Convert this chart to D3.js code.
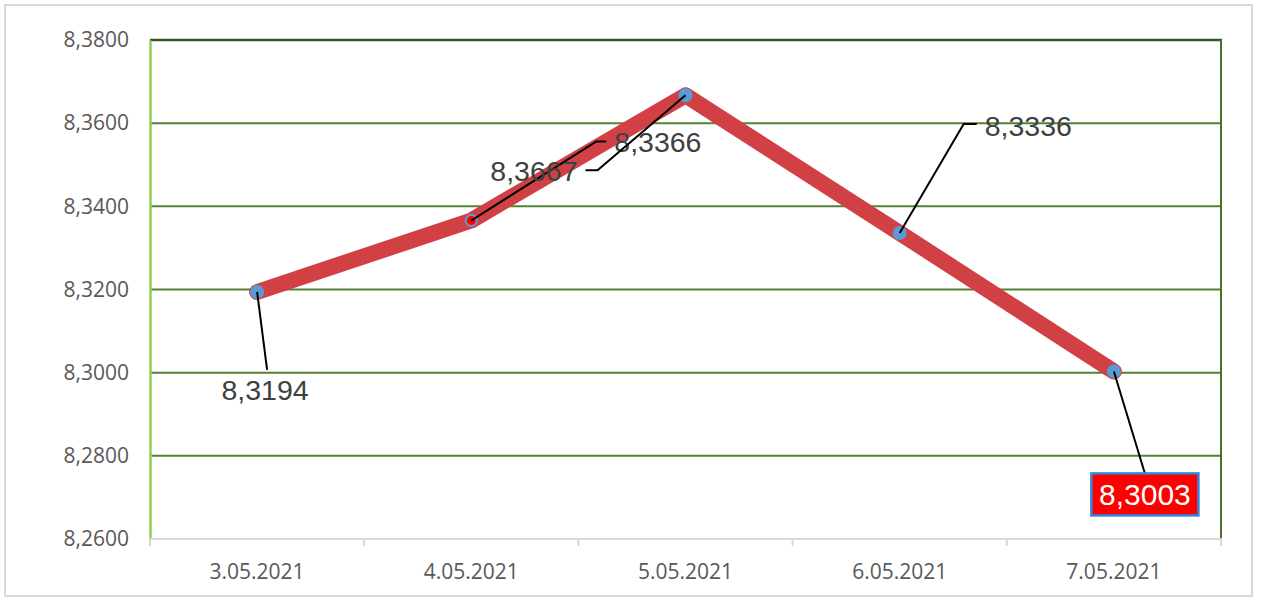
<!DOCTYPE html>
<html>
<head>
<meta charset="utf-8">
<script src="https://cdn.jsdelivr.net/npm/d3@7"></script>
<style>
  html, body { margin: 0; padding: 0; background: #fff; }
  svg { display: block; }
</style>
</head>
<body>
<svg id="chart" width="1266" height="598"></svg>
<script>
// ---- data ----
const categories = ["3.05.2021", "4.05.2021", "5.05.2021", "6.05.2021", "7.05.2021"];
const values = [8.3194, 8.3366, 8.3667, 8.3336, 8.3003];
const labelTexts = ["8,3194", "8,3366", "8,3667", "8,3336", "8,3003"];
const yTicks = [8.26, 8.28, 8.30, 8.32, 8.34, 8.36, 8.38];

// ---- layout ----
const plot = { left: 150, right: 1221, top: 40, bottom: 539 };

const svg = d3.select("#chart");

// outer frame
svg.append("rect")
  .attr("x", 5).attr("y", 5).attr("width", 1247).attr("height", 591)
  .attr("fill", "#fff").attr("stroke", "#d9d9d9").attr("stroke-width", 2);

const x = d3.scaleBand().domain(categories).range([plot.left, plot.right]).padding(0);
const y = d3.scaleLinear().domain([8.26, 8.38]).range([plot.bottom, plot.top]);

const fmt = v => d3.format(".4f")(v).replace(".", ",");

// gridlines
svg.append("g").selectAll("line")
  .data(yTicks.filter(t => t > 8.26 && t < 8.38))
  .join("line")
  .attr("x1", plot.left).attr("x2", plot.right)
  .attr("y1", d => y(d)).attr("y2", d => y(d))
  .attr("stroke", "#548235").attr("stroke-width", 2);

// top border
svg.append("line")
  .attr("x1", plot.left).attr("x2", plot.right + 1)
  .attr("y1", y(8.38)).attr("y2", y(8.38))
  .attr("stroke", "#375623").attr("stroke-width", 2.5);
// right border
svg.append("line")
  .attr("x1", plot.right).attr("x2", plot.right)
  .attr("y1", y(8.38)).attr("y2", y(8.26))
  .attr("stroke", "#4a6f2e").attr("stroke-width", 2);

// y axis
const yAxis = d3.axisLeft(y).tickValues(yTicks).tickFormat(fmt).tickSize(0).tickPadding(21);
const gy = svg.append("g").attr("transform", `translate(${plot.left},0)`).call(yAxis);
gy.select(".domain").attr("stroke", "#92d050").attr("stroke-width", 2.5);
gy.selectAll("text")
  .attr("font-family", "'Open Sans', sans-serif")
  .attr("font-size", 21).attr("fill", "#595959");

// x axis (category boundaries as ticks)
const gx = svg.append("g").attr("transform", `translate(0,${plot.bottom})`);
gx.append("line").attr("x1", plot.left).attr("x2", plot.right + 1)
  .attr("stroke", "#d9d9d9").attr("stroke-width", 2);
const boundaries = categories.map(c => x(c)).concat([x(categories[categories.length - 1]) + x.bandwidth()]);
gx.selectAll("line.tick").data(boundaries).join("line")
  .attr("class", "tick")
  .attr("x1", d => d).attr("x2", d => d).attr("y1", 0).attr("y2", 7)
  .attr("stroke", "#d9d9d9").attr("stroke-width", 2);
gx.selectAll("text").data(categories).join("text")
  .attr("x", d => x(d) + x.bandwidth() / 2)
  .attr("y", 40)
  .attr("text-anchor", "middle")
  .attr("font-family", "'Open Sans', sans-serif")
  .attr("font-size", 21).attr("fill", "#595959")
  .text(d => d);

// the line
const pts = categories.map((c, i) => [x(c) + x.bandwidth() / 2, y(values[i])]);
svg.append("path")
  .attr("d", d3.line()(pts))
  .attr("fill", "none").attr("stroke", "#d04044").attr("stroke-width", 16)
  .attr("stroke-linejoin", "round").attr("stroke-linecap", "round");

// markers
svg.append("g").selectAll("circle").data(pts).join("circle")
  .attr("cx", d => d[0]).attr("cy", d => d[1])
  .attr("r", (d, i) => i === 1 ? 5.5 : 7)
  .attr("fill", (d, i) => i === 1 ? "#ff0000" : "#5b9bd5")
  .attr("stroke", (d, i) => i === 1 ? "#5b9bd5" : "none")
  .attr("stroke-width", 2);

// data labels: leader path (relative to point) and text placement (relative to point)
const labelLayout = [
  { leader: [[0, 0], [10, 78]], tx: 8, ty: 98, anchor: "middle" },
  { leader: [[0, 0], [125, -79], [135, -79]], tx: 143, ty: -79, anchor: "start" },
  { leader: [[0, 0], [-88, 75], [-100, 75]], tx: -108, ty: 75, anchor: "end" },
  { leader: [[0, 0], [64, -109], [77, -109]], tx: 85, ty: -107, anchor: "start" },
  { leader: [[0, 0], [31, 102]], tx: 31, ty: 123, anchor: "middle", box: true }
];

const lg = svg.append("g");
labelLayout.forEach((L, i) => {
  const [px, py] = pts[i];
  lg.append("path")
    .attr("d", d3.line()(L.leader.map(p => [px + p[0], py + p[1]])))
    .attr("fill", "none").attr("stroke", "#000").attr("stroke-width", 2);
  if (L.box) {
    const bw = 107, bh = 42;
    lg.append("rect")
      .attr("x", px + L.tx - bw / 2).attr("y", py + L.ty - bh / 2)
      .attr("width", bw).attr("height", bh)
      .attr("fill", "#ff0000").attr("stroke", "#2f86e0").attr("stroke-width", 2.5);
  }
  lg.append("text")
    .attr("x", px + L.tx).attr("y", py + L.ty)
    .attr("dy", "0.36em")
    .attr("text-anchor", L.anchor)
    .attr("font-family", "'Liberation Sans', Arial, sans-serif")
    .attr("font-size", L.box ? 30 : 28.5)
    .attr("fill", L.box ? "#ffffff" : "#404040")
    .text(labelTexts[i]);
});
</script>
</body>
</html>
